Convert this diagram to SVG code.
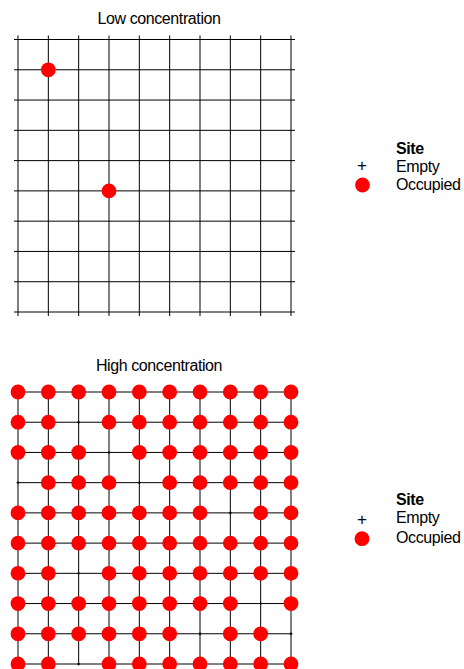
<svg xmlns="http://www.w3.org/2000/svg" xmlns:xlink="http://www.w3.org/1999/xlink" width="464" height="669" viewBox="0 0 464 669">
<style>
.t{font-family:"Liberation Sans",Arial,sans-serif;font-size:16px;fill:#000;letter-spacing:-0.4px}
.b{font-weight:bold}
.p{font-family:"Liberation Sans",Arial,sans-serif;font-size:17px;fill:#000}
.g{stroke:#000;stroke-width:1;fill:none}
.o{fill:#ff0000}
</style>
<defs>
<circle id="occ" cx="0" cy="0" r="7.4" class="o"/>
<path id="plus" d="M-1.5,0H1.5M0,-1.5V1.5" class="g"/>
</defs>
<rect width="464" height="669" fill="#fff"/>
<g id="panel-low">
<text class="t" x="159" y="24" text-anchor="middle">Low concentration</text>
<g id="grid-low" class="g">
<path d="M14,39.5H295M14,69.78H295M14,100.06H295M14,130.33H295M14,160.61H295M14,190.89H295M14,221.17H295M14,251.44H295M14,281.72H295M14,312H295"/>
<path d="M18,35.5V316M48.33,35.5V316M78.67,35.5V316M109,35.5V316M139.33,35.5V316M169.67,35.5V316M200,35.5V316M230.33,35.5V316M260.67,35.5V316M291,35.5V316"/>
</g>
<g id="sites-low">
<use href="#occ" x="48.33" y="69.78"/>
<use href="#occ" x="109" y="190.89"/>
</g>
<g id="legend-low">
<text class="t b" x="396" y="153.5">Site</text>
<text class="p" x="362" y="171" text-anchor="middle">+</text>
<text class="t" x="396" y="171.5">Empty</text>
<use href="#occ" x="362.5" y="185"/>
<text class="t" x="396" y="190">Occupied</text>
</g>
</g>
<g id="panel-high">
<text class="t" x="159" y="371" text-anchor="middle">High concentration</text>
<g id="grid-high" class="g">
<path d="M18,392H291M18,422.22H291M18,452.44H291M18,482.67H291M18,512.89H291M18,543.11H291M18,573.33H291M18,603.56H291M18,633.78H291M18,664H291"/>
<path d="M18,392V664M48.33,392V664M78.67,392V664M109,392V664M139.33,392V664M169.67,392V664M200,392V664M230.33,392V664M260.67,392V664M291,392V664"/>
</g>
<g id="empty-high">
<use href="#plus" x="78.67" y="422.22"/>
<use href="#plus" x="109" y="452.44"/>
<use href="#plus" x="18" y="482.67"/>
<use href="#plus" x="139.33" y="482.67"/>
<use href="#plus" x="230.33" y="512.89"/>
<use href="#plus" x="78.67" y="573.33"/>
<use href="#plus" x="260.67" y="603.56"/>
<use href="#plus" x="200" y="633.78"/>
<use href="#plus" x="291" y="633.78"/>
<use href="#plus" x="78.67" y="664"/>
</g>
<g id="sites-high">
<use href="#occ" x="18" y="392"/><use href="#occ" x="48.33" y="392"/><use href="#occ" x="78.67" y="392"/><use href="#occ" x="109" y="392"/><use href="#occ" x="139.33" y="392"/><use href="#occ" x="169.67" y="392"/><use href="#occ" x="200" y="392"/><use href="#occ" x="230.33" y="392"/><use href="#occ" x="260.67" y="392"/><use href="#occ" x="291" y="392"/>
<use href="#occ" x="18" y="422.22"/><use href="#occ" x="48.33" y="422.22"/><use href="#occ" x="109" y="422.22"/><use href="#occ" x="139.33" y="422.22"/><use href="#occ" x="169.67" y="422.22"/><use href="#occ" x="200" y="422.22"/><use href="#occ" x="230.33" y="422.22"/><use href="#occ" x="260.67" y="422.22"/><use href="#occ" x="291" y="422.22"/>
<use href="#occ" x="18" y="452.44"/><use href="#occ" x="48.33" y="452.44"/><use href="#occ" x="78.67" y="452.44"/><use href="#occ" x="139.33" y="452.44"/><use href="#occ" x="169.67" y="452.44"/><use href="#occ" x="200" y="452.44"/><use href="#occ" x="230.33" y="452.44"/><use href="#occ" x="260.67" y="452.44"/><use href="#occ" x="291" y="452.44"/>
<use href="#occ" x="48.33" y="482.67"/><use href="#occ" x="78.67" y="482.67"/><use href="#occ" x="109" y="482.67"/><use href="#occ" x="169.67" y="482.67"/><use href="#occ" x="200" y="482.67"/><use href="#occ" x="230.33" y="482.67"/><use href="#occ" x="260.67" y="482.67"/><use href="#occ" x="291" y="482.67"/>
<use href="#occ" x="18" y="512.89"/><use href="#occ" x="48.33" y="512.89"/><use href="#occ" x="78.67" y="512.89"/><use href="#occ" x="109" y="512.89"/><use href="#occ" x="139.33" y="512.89"/><use href="#occ" x="169.67" y="512.89"/><use href="#occ" x="200" y="512.89"/><use href="#occ" x="260.67" y="512.89"/><use href="#occ" x="291" y="512.89"/>
<use href="#occ" x="18" y="543.11"/><use href="#occ" x="48.33" y="543.11"/><use href="#occ" x="78.67" y="543.11"/><use href="#occ" x="109" y="543.11"/><use href="#occ" x="139.33" y="543.11"/><use href="#occ" x="169.67" y="543.11"/><use href="#occ" x="200" y="543.11"/><use href="#occ" x="230.33" y="543.11"/><use href="#occ" x="260.67" y="543.11"/><use href="#occ" x="291" y="543.11"/>
<use href="#occ" x="18" y="573.33"/><use href="#occ" x="48.33" y="573.33"/><use href="#occ" x="109" y="573.33"/><use href="#occ" x="139.33" y="573.33"/><use href="#occ" x="169.67" y="573.33"/><use href="#occ" x="200" y="573.33"/><use href="#occ" x="230.33" y="573.33"/><use href="#occ" x="260.67" y="573.33"/><use href="#occ" x="291" y="573.33"/>
<use href="#occ" x="18" y="603.56"/><use href="#occ" x="48.33" y="603.56"/><use href="#occ" x="78.67" y="603.56"/><use href="#occ" x="109" y="603.56"/><use href="#occ" x="139.33" y="603.56"/><use href="#occ" x="169.67" y="603.56"/><use href="#occ" x="200" y="603.56"/><use href="#occ" x="230.33" y="603.56"/><use href="#occ" x="291" y="603.56"/>
<use href="#occ" x="18" y="633.78"/><use href="#occ" x="48.33" y="633.78"/><use href="#occ" x="78.67" y="633.78"/><use href="#occ" x="109" y="633.78"/><use href="#occ" x="139.33" y="633.78"/><use href="#occ" x="169.67" y="633.78"/><use href="#occ" x="230.33" y="633.78"/><use href="#occ" x="260.67" y="633.78"/>
<use href="#occ" x="18" y="664"/><use href="#occ" x="48.33" y="664"/><use href="#occ" x="109" y="664"/><use href="#occ" x="139.33" y="664"/><use href="#occ" x="169.67" y="664"/><use href="#occ" x="200" y="664"/><use href="#occ" x="230.33" y="664"/><use href="#occ" x="260.67" y="664"/><use href="#occ" x="291" y="664"/>
</g>
<g id="legend-high">
<text class="t b" x="396" y="505">Site</text>
<text class="p" x="362" y="524.5" text-anchor="middle">+</text>
<text class="t" x="396" y="523.3">Empty</text>
<use href="#occ" x="362" y="538.7"/>
<text class="t" x="396" y="542.5">Occupied</text>
</g>
</g>
</svg>
